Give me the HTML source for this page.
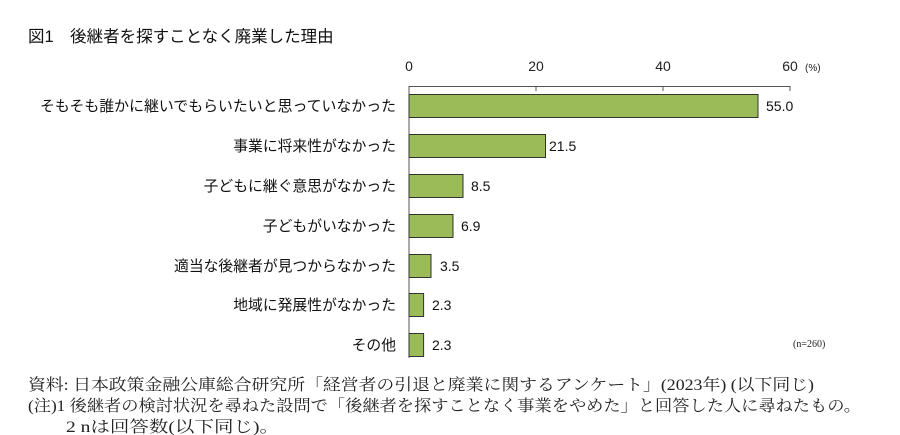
<!DOCTYPE html>
<html><head><meta charset="utf-8"><style>
html,body{margin:0;padding:0;background:#fff;width:900px;height:435px;overflow:hidden}
svg{display:block}
.j{font-family:"Liberation Sans","Noto Sans CJK JP",sans-serif}
.s{font-family:"Liberation Serif","Noto Serif CJK SC",serif}
</style></head><body>
<svg width="900" height="435" viewBox="0 0 900 435" xmlns="http://www.w3.org/2000/svg">
<text x="28" y="42" class="j" font-size="16.5" fill="#111">図1　後継者を探すことなく廃業した理由</text>
<g class="j" font-size="14" fill="#222" text-anchor="middle">
<text x="409" y="71">0</text><text x="536" y="71">20</text><text x="663" y="71">40</text><text x="790" y="71">60</text>
</g>
<text x="805" y="71" class="j" font-size="10" fill="#222">(%)</text>
<g stroke="#555" stroke-width="1">
<line x1="409" y1="86.5" x2="790" y2="86.5"/>
<line x1="409" y1="86" x2="409" y2="358"/>
<line x1="536" y1="86" x2="536" y2="91"/><line x1="663" y1="86" x2="663" y2="91"/><line x1="790" y1="86" x2="790" y2="91"/>
</g>
<g fill="#9bbb59" stroke="#333" stroke-width="1">
<rect x="409" y="94.5" width="349" height="23"/>
<rect x="409" y="134.5" width="136.5" height="23"/>
<rect x="409" y="174.5" width="54" height="23"/>
<rect x="409" y="214.5" width="44" height="23"/>
<rect x="409" y="254.5" width="22" height="23"/>
<rect x="409" y="293.5" width="14.6" height="23"/>
<rect x="409" y="333.5" width="14.6" height="23"/>
</g>
<g class="j" font-size="14" fill="#111">
<text x="766" y="111">55.0</text><text x="549" y="151">21.5</text><text x="471" y="191">8.5</text><text x="461" y="231">6.9</text><text x="440" y="271">3.5</text><text x="432" y="310">2.3</text><text x="432" y="350">2.3</text>
</g>
<g class="j" font-size="14.8" fill="#111" text-anchor="end">
<text x="396" y="111" textLength="356" lengthAdjust="spacingAndGlyphs">そもそも誰かに継いでもらいたいと思っていなかった</text>
<text x="396" y="151">事業に将来性がなかった</text>
<text x="396" y="191">子どもに継ぐ意思がなかった</text>
<text x="396" y="231">子どもがいなかった</text>
<text x="396" y="271">適当な後継者が見つからなかった</text>
<text x="396" y="310">地域に発展性がなかった</text>
<text x="396" y="350">その他</text>
</g>
<text x="793" y="347" class="s" font-size="10" fill="#222">(n=260)</text>
<g class="s" font-size="16" fill="#222">
<text x="28" y="390" textLength="786" lengthAdjust="spacingAndGlyphs">資料: 日本政策金融公庫総合研究所「経営者の引退と廃業に関するアンケート」(2023年) (以下同じ)</text>
<text x="28" y="411" textLength="833" lengthAdjust="spacingAndGlyphs">(注)1 後継者の検討状況を尋ねた設問で「後継者を探すことなく事業をやめた」と回答した人に尋ねたもの。</text>
<text x="66" y="432" textLength="213" lengthAdjust="spacingAndGlyphs">2 nは回答数(以下同じ)。</text>
</g>
</svg>
</body></html>
